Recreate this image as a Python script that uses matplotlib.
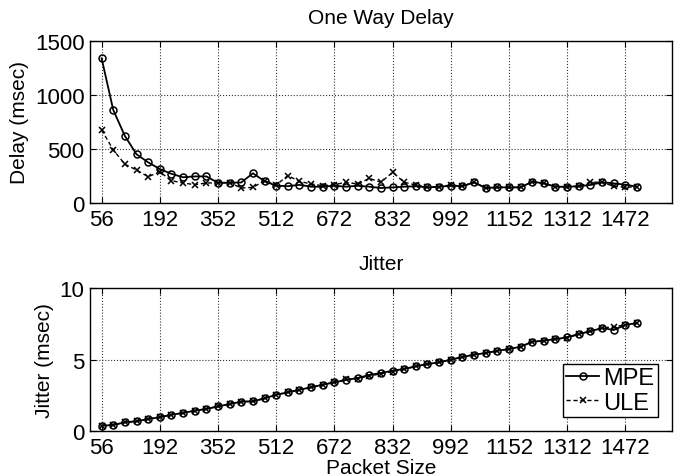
import matplotlib
matplotlib.use("Agg")
import matplotlib.pyplot as plt
import numpy as np

plt.rcParams['font.family'] = ['Liberation Sans', 'DejaVu Sans']

# Packet sizes (bytes)
sizes = [56] + list(range(64, 1505, 32))
tick_sizes = [56, 192, 352, 512, 672, 832, 992, 1152, 1312, 1472]

delay_mpe = [1337, 861, 621, 452, 378, 316, 272, 240, 248, 248,
             189, 190, 192, 277, 204, 162, 158, 170, 153, 153,
             162, 153, 162, 153, 141, 147, 153, 157, 147, 153,
             162, 157, 194, 141, 147, 147, 147, 199, 184, 153,
             153, 157, 169, 194, 184, 172, 153]
delay_ule = [676, 494, 360, 307, 245, 290, 209, 187, 172, 187,
             189, 190, 141, 147, 209, 169, 255, 203, 178, 162,
             172, 194, 178, 230, 194, 286, 194, 169, 147, 153,
             169, 157, 194, 141, 147, 147, 147, 199, 184, 153,
             153, 157, 194, 194, 157, 147, 153]

jitter_mpe = [0.39, 0.44, 0.63, 0.70, 0.86, 0.98, 1.16, 1.28, 1.44, 1.56,
              1.74, 1.90, 2.07, 2.09, 2.30, 2.55, 2.72, 2.90, 3.07, 3.25,
              3.42, 3.58, 3.72, 3.93, 4.07, 4.23, 4.35, 4.54, 4.70, 4.81,
              5.00, 5.18, 5.35, 5.46, 5.62, 5.74, 5.90, 6.25, 6.32, 6.44,
              6.56, 6.79, 6.98, 7.21, 7.07, 7.42, 7.56]
jitter_ule = [0.39, 0.44, 0.63, 0.70, 0.86, 0.98, 1.16, 1.28, 1.44, 1.56,
              1.74, 1.90, 2.07, 2.09, 2.30, 2.55, 2.72, 2.90, 3.07, 3.25,
              3.42, 3.62, 3.68, 3.85, 4.02, 4.17, 4.33, 4.54, 4.68, 4.81,
              5.00, 5.18, 5.35, 5.46, 5.62, 5.74, 5.90, 6.25, 6.32, 6.44,
              6.50, 6.79, 6.98, 7.21, 7.30, 7.42, 7.56]

x = np.arange(len(sizes))
tick_pos = [sizes.index(s) for s in tick_sizes]

fig = plt.figure(figsize=(6.79, 4.77), dpi=100)
ax1 = fig.add_axes([0.1325, 0.5717, 0.857, 0.341])
ax2 = fig.add_axes([0.1325, 0.0937, 0.857, 0.3004])

TFS = 16
LFS = 15

def style(ax):
    ax.set_xlim(-1, 49)
    ax.set_xticks(tick_pos)
    ax.set_xticklabels([str(s) for s in tick_sizes])
    ax.grid(True, linestyle=':', color='#333333', linewidth=0.8)
    ax.tick_params(direction='in', top=True, right=True, labelsize=TFS,
                   length=4, width=0.8, pad=4)
    for sp in ax.spines.values():
        sp.set_linewidth(1.0)

kw_m = dict(color='black', linestyle='-', marker='o', markersize=5,
            markerfacecolor='none', markeredgewidth=1.1, linewidth=1.3)
kw_u = dict(color='black', linestyle='--', marker='x', markersize=4,
            markeredgewidth=1.1, linewidth=1.0, dashes=(3, 2))

ax1.plot(x, delay_mpe, label='MPE', **kw_m)
ax1.plot(x, delay_ule, label='ULE', **kw_u)
style(ax1)
ax1.set_ylim(0, 1500)
ax1.set_yticks([0, 500, 1000, 1500])
ax1.set_ylabel('Delay (msec)', fontsize=LFS, labelpad=4)
ax1.set_title('One Way Delay', fontsize=15, pad=13)

ax2.plot(x, jitter_mpe, label='MPE', **kw_m)
ax2.plot(x, jitter_ule, label='ULE', **kw_u)
style(ax2)
ax2.set_ylim(0, 10)
ax2.set_yticks([0, 5, 10])
ax2.set_ylabel('Jitter (msec)', fontsize=LFS, labelpad=4)
ax2.set_title('Jitter', fontsize=15, pad=14)
ax2.set_xlabel('Packet Size', fontsize=LFS, labelpad=0)
leg = ax2.legend(loc='lower right', fontsize=TFS + 1, handlelength=1.4,
                 handletextpad=0.15, borderpad=0.15, labelspacing=0.1,
                 fancybox=False, edgecolor='black', framealpha=1,
                 borderaxespad=0.6)
leg.get_frame().set_linewidth(1.0)

fig.savefig('out.png', dpi=100)
